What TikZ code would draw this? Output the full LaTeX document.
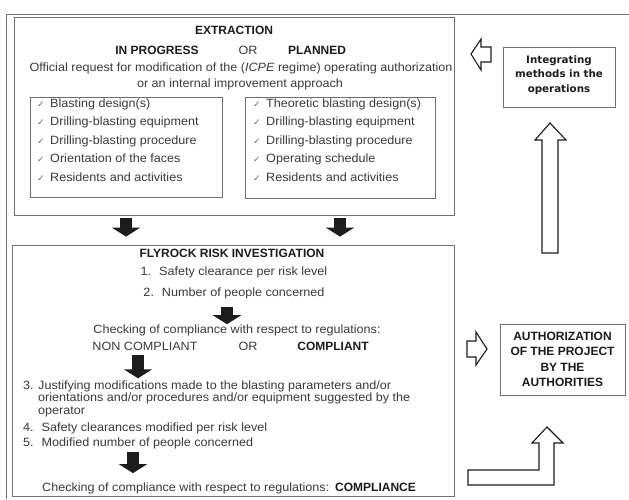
\documentclass[tikz,border=0pt]{standalone}
\usepackage{fontspec}
\setmainfont{Liberation Sans}[
  UprightFeatures={FakeStretch=1.05},
  ItalicFeatures={FakeStretch=1.05}]
\newfontfamily\checkfont{DejaVu Sans}
\newfontfamily\roundfont{DejaVu Sans}
\usetikzlibrary{arrows.meta}

\definecolor{ink}{HTML}{3A3A3A}
\definecolor{head}{HTML}{1C1C1C}
\definecolor{rule}{HTML}{707070}

\newcommand{\ck}{{\checkfont\fontsize{9}{9}\selectfont\color{rule}\char"2713}\hspace{5.5pt}}

\tikzset{
  frame/.style={draw=rule, line width=0.8pt},
  box/.style={draw=rule, line width=0.8pt, inner sep=0pt},
  txt/.style={inner sep=0pt, text=ink, font=\fontsize{12}{13}\selectfont},
  bold/.style={inner sep=0pt, text=head, font=\fontsize{12}{13}\selectfont\bfseries},
  sidetxt/.style={inner sep=0pt, text=head, align=center},
  fatarrow/.style={draw=head, line width=12pt,
    -{Triangle[width=28pt,length=9pt]}},
  hollow/.style={draw=head, fill=white, line width=1.1pt, line join=miter},
}

\begin{document}
\begin{tikzpicture}[x=1pt,y=-1pt]
\useasboundingbox (0,0) rectangle (629,499);
\fill[white] (0,0) rectangle (629,499);

% outer frame (only its top and left sides fall inside the page)
\draw[frame] (629,14) -- (6,14) -- (6,499);

% ---------------- extraction block ----------------
\node[box, minimum width=440pt, minimum height=198pt] (ext) at (234,116) {};
\node[bold] (extt) at (234,30) {EXTRACTION};
\node[bold] (prog) at (157,50) {IN PROGRESS};
\node[txt]  (or1)  at (248,50) {OR};
\node[bold] (plan) at (317,50) {PLANNED};
\node[txt]  (req1) at (241,68) {Official request for modification of the (\textit{ICPE} regime) operating authorization};
\node[txt]  (req2) at (240,84) {or an internal improvement approach};

\node[box, minimum width=192pt, minimum height=100pt] (lbox) at (126,147) {};
\node[box, minimum width=190pt, minimum height=101pt] (rbox) at (340,147.5) {};

\foreach \t [count=\i] in {Blasting design(s), Drilling-blasting equipment,
  Drilling-blasting procedure, Orientation of the faces, Residents and activities}
  \node[txt, anchor=base west] (ll\i) at (37,{107+18.5*(\i-1)}) {\ck\t};
\foreach \t [count=\i] in {Theoretic blasting design(s), Drilling-blasting equipment,
  Drilling-blasting procedure, Operating schedule, Residents and activities}
  \node[txt, anchor=base west] (rl\i) at (253,{107+18.5*(\i-1)}) {\ck\t};

% ---------------- flyrock block ----------------
\node[box, minimum width=442pt, minimum height=251pt] (fly) at (233,370.5) {};
\node[bold] (flyt) at (232,253) {FLYROCK RISK INVESTIGATION};
\node[txt] (n1) at (234,272) {1.\hspace{8pt}Safety clearance per risk level};
\node[txt] (n2) at (234,293) {2.\hspace{8pt}Number of people concerned};
\node[txt] (chk1) at (237,330) {Checking of compliance with respect to regulations:};
\node[txt]  (nc)  at (145,346) {NON COMPLIANT};
\node[txt]  (or2) at (248,346) {OR};
\node[bold] (cp)  at (333,346) {COMPLIANT};

\node[txt, anchor=base west] (n3a) at (23,389) {3.};
\node[txt, anchor=north west, align=left, font=\fontsize{12}{12.6}\selectfont]
  (n3) at (38,380.3) {Justifying modifications made to the blasting parameters and/or\\
  orientations and/or procedures and/or equipment suggested by the\\operator};
\node[txt, anchor=base west] (n4) at (23,431) {4.\hspace{8pt}Safety clearances modified per risk level};
\node[txt, anchor=base west] (n5) at (23,446) {5.\hspace{8pt}Modified number of people concerned};
\node[txt, anchor=base west] (chk2) at (42,491) {Checking of compliance with respect to regulations:};
\node[bold, anchor=base west] (cpl) at (335,491) {COMPLIANCE};

% solid block arrows
\draw[fatarrow, shorten <=3pt, shorten >=8pt] (lbox.south |- ext.south) -- (lbox.south |- fly.north);
\draw[fatarrow, shorten <=3pt, shorten >=8pt] (rbox.south |- ext.south) -- (rbox.south |- fly.north);
\coordinate (a1) at ([xshift=-7pt]n2.south);
\draw[fatarrow, shorten <=8pt, shorten >=0pt] (a1) -- (a1 |- chk1.north);
\coordinate (a2) at ([xshift=-7pt]nc.south);
\draw[fatarrow, shorten <=5pt, shorten >=2pt] (a2) -- (a2 |- n3.north);
\coordinate (a3) at (133,446);
\draw[fatarrow, shorten <=6pt, shorten >=9pt] (a3) -- (a3 |- chk2.north);

% ---------------- right column ----------------
\node[box, minimum width=112pt, minimum height=60pt] (integ) at (559,77) {};
\node[sidetxt, font=\roundfont\fontsize{10.3}{14.5}\selectfont\bfseries] at ([yshift=2pt]integ.center)
  {Integrating\\methods in the\\operations};

\node[box, minimum width=125pt, minimum height=71pt] (auth) at (562.5,359.5) {};
\node[sidetxt, font=\fontsize{12}{15.3}\selectfont\bfseries] at (auth.center)
  {AUTHORIZATION\\OF THE PROJECT\\BY THE\\AUTHORITIES};

% hollow arrows
\draw[hollow] (471,54) -- (481,39) -- (481,47) -- (491,47) -- (491,62) -- (481,62) -- (481,70) -- cycle;
\draw[hollow] (487,349) -- (476,332) -- (476,341) -- (467,341) -- (467,357) -- (476,357) -- (476,365) -- cycle;
\draw[hollow] (550,123) -- (566,140) -- (558,140) -- (558,253) -- (542,253) -- (542,140) -- (535,140) -- cycle;
\draw[hollow] (547,427) -- (563,443) -- (554,443) -- (554,485) -- (468,485) -- (468,470)
  -- (539,470) -- (539,443) -- (532,443) -- cycle;
\end{tikzpicture}
\end{document}
